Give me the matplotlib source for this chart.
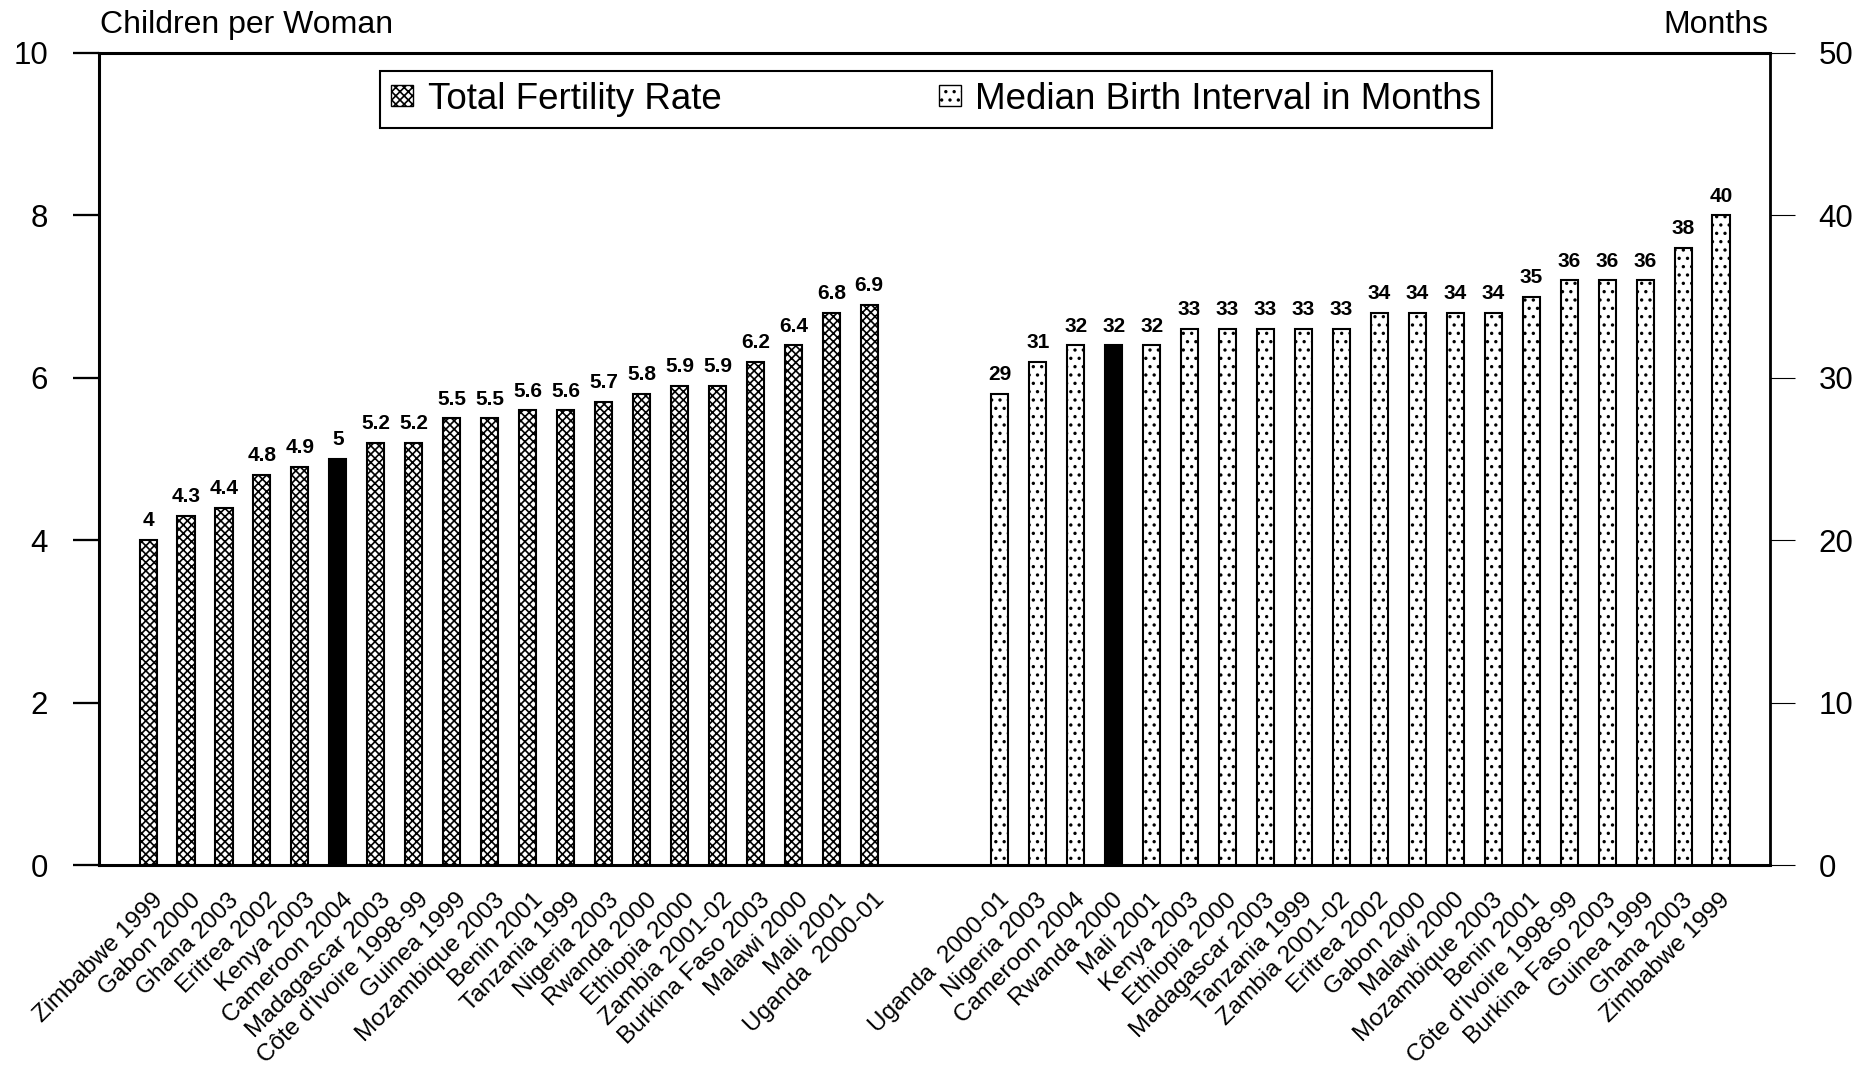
import numpy as np
import matplotlib
matplotlib.use("Agg")
import matplotlib.pyplot as plt
from matplotlib.patches import Patch
from matplotlib.transforms import ScaledTranslation

plt.rcParams['font.family'] = ['Liberation Sans', 'DejaVu Sans']
plt.rcParams['hatch.linewidth'] = 1.2

# Total fertility rate (children per woman), sorted ascending
tfr_countries = ["Zimbabwe 1999", "Gabon 2000", "Ghana 2003", "Eritrea 2002", "Kenya 2003",
                 "Cameroon 2004", "Madagascar 2003", "Côte d'Ivoire 1998-99", "Guinea 1999",
                 "Mozambique 2003", "Benin 2001", "Tanzania 1999", "Nigeria 2003", "Rwanda 2000",
                 "Ethiopia 2000", "Zambia 2001-02", "Burkina Faso 2003", "Malawi 2000",
                 "Mali 2001", "Uganda  2000-01"]
tfr_values = [4, 4.3, 4.4, 4.8, 4.9, 5, 5.2, 5.2, 5.5, 5.5, 5.6, 5.6, 5.7, 5.8, 5.9, 5.9,
              6.2, 6.4, 6.8, 6.9]
tfr_highlight = "Cameroon 2004"

# Median birth interval in months, sorted ascending
mbi_countries = ["Uganda  2000-01", "Nigeria 2003", "Cameroon 2004", "Rwanda 2000", "Mali 2001",
                 "Kenya 2003", "Ethiopia 2000", "Madagascar 2003", "Tanzania 1999",
                 "Zambia 2001-02", "Eritrea 2002", "Gabon 2000", "Malawi 2000",
                 "Mozambique 2003", "Benin 2001", "Côte d'Ivoire 1998-99", "Burkina Faso 2003",
                 "Guinea 1999", "Ghana 2003", "Zimbabwe 1999"]
mbi_values = [29, 31, 32, 32, 32, 33, 33, 33, 33, 33, 34, 34, 34, 34, 35, 36, 36, 36, 38, 40]
mbi_highlight = "Rwanda 2000"

left_ticks = [0, 2, 4, 6, 8, 10]
right_ticks = [0, 10, 20, 30, 40, 50]

# slot positions for the two groups of bars
x_tfr = np.arange(len(tfr_countries), dtype=float)
x_mbi = 22.44 + np.arange(len(mbi_countries), dtype=float)
bar_w = 0.45

fig = plt.figure(figsize=(18.73, 10.67), dpi=100)
ax = fig.add_axes([0.0529, 0.1893, 0.8921, 0.7611])
ax2 = ax.twinx()

tfr_face = ['black' if c == tfr_highlight else 'white' for c in tfr_countries]
bars1 = ax.bar(x_tfr, tfr_values, width=bar_w, color=tfr_face, edgecolor='black',
               linewidth=1.5, hatch='xxxx', zorder=2)
mbi_face = ['black' if c == mbi_highlight else 'white' for c in mbi_countries]
bars2 = ax2.bar(x_mbi, mbi_values, width=bar_w, color=mbi_face, edgecolor='black',
                linewidth=1.5, hatch='..', zorder=2)

for b, v in zip(bars1, tfr_values):
    ax.annotate(f"{v:g}", (b.get_x() + b.get_width() / 2, v), xytext=(0, 7),
                textcoords='offset points', ha='center', va='bottom',
                fontsize=15, fontweight='bold')
for b, v in zip(bars2, mbi_values):
    ax2.annotate(f"{v:g}", (b.get_x() + b.get_width() / 2, v), xytext=(0, 7),
                 textcoords='offset points', ha='center', va='bottom',
                 fontsize=15, fontweight='bold')

ax.set_xlim(-1.29, 42.73)
ax.set_ylim(0, 10)
ax2.set_ylim(0, 50)
ax.set_yticks(left_ticks)
ax2.set_yticks(right_ticks)
ax.set_xticks([])

ax.tick_params(axis='y', direction='out', length=18.7, width=1.65, labelsize=22.5, pad=18)
ax2.tick_params(axis='y', direction='out', length=18, width=0.8, labelsize=22.5, pad=17)

for s in ['left', 'top', 'bottom']:
    ax.spines[s].set_linewidth(2.2)
ax.spines['right'].set_visible(False)
for s in ['left', 'top', 'bottom']:
    ax2.spines[s].set_visible(False)
ax2.spines['right'].set_linewidth(2.0)

# rotated category labels under each group
xtrans = ax.get_xaxis_transform()
for xs, names, dx in [(x_tfr, tfr_countries, 0.04), (x_mbi, mbi_countries, -0.02)]:
    off = ScaledTranslation(dx, -0.24, fig.dpi_scale_trans)
    for x, name in zip(xs, names):
        ax.text(x, 0, name, transform=xtrans + off, rotation=45, ha='right', va='top',
                rotation_mode='anchor', fontsize=17.5)

fig.text(100 / 1873, 1 - 33 / 1067, "Children per Woman", ha='left', va='baseline', fontsize=23)
fig.text(1768 / 1873, 1 - 33 / 1067, "Months", ha='right', va='baseline', fontsize=23)

handles = [Patch(facecolor='white', edgecolor='black', hatch='xxxx', linewidth=1.0),
           Patch(facecolor='white', edgecolor='black', hatch='..', linewidth=1.0)]
leg = ax2.legend(handles, ["Total Fertility Rate", "Median Birth Interval in Months"],
                 ncol=2, loc='upper left', bbox_to_anchor=(0.168, 0.978), borderaxespad=0,
                 fontsize=26.5, handlelength=0.6, handleheight=0.5, handletextpad=0.4,
                 columnspacing=5.9, borderpad=0.3, fancybox=False, framealpha=1,
                 edgecolor='black')
leg.get_frame().set_linewidth(1.5)

fig.savefig("out.png", dpi=100)
